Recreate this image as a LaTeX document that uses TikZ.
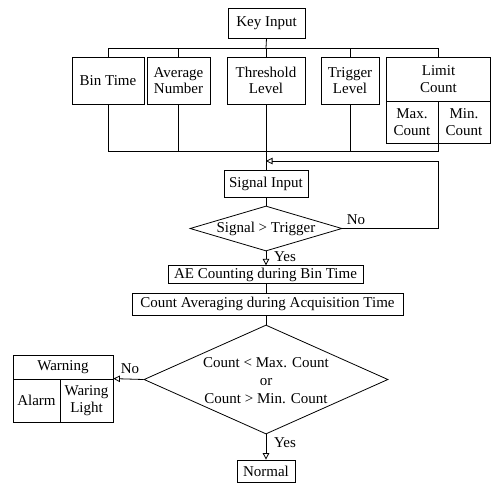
\documentclass[tikz,border=0pt]{standalone}
\usepackage{fontspec}
\setmainfont{Liberation Serif}
\usetikzlibrary{shapes.geometric,arrows.meta}
\begin{document}
\begin{tikzpicture}[x=1pt,y=-1pt,
  line width=0.8pt,
  every node/.style={font=\fontsize{15}{16.5}\selectfont, inner sep=0pt},
  box/.style={draw, rectangle, align=center},
  dia/.style={draw, diamond, inner sep=0pt},
  lbl/.style={inner sep=0pt},
  arr/.style={-{Triangle[open,length=6.5pt,width=6.5pt]}}]
\useasboundingbox (0,0) rectangle (492,483);
% top row
\node[box, minimum width=77pt, minimum height=30pt] (key) at (266.5,23) {Key Input};
\node[box, minimum width=72pt, minimum height=47pt] (bin) at (108,80.5) {Bin Time};
\node[box, minimum width=63pt, minimum height=47pt] (avg) at (178.5,80.5) {Average\\Number};
\node[box, minimum width=78pt, minimum height=47pt] (thr) at (266,80.5) {Threshold\\Level};
\node[box, minimum width=58pt, minimum height=47pt] (trg) at (350,80.5) {Trigger\\Level};
\node[box, minimum width=104pt, minimum height=44pt] (lim) at (438.5,79) {Limit\\Count};
\node[box, minimum width=52pt, minimum height=42pt] (max) at (412,122) {Max.\\Count};
\node[box, minimum width=52pt, minimum height=42pt] (min) at (464,122) {Min.\\Count};
\coordinate (tbar) at (266,48);
\coordinate (bbar) at (266,151);
\draw (key.south) -- (tbar);
\draw (bin.north) -- (bin.north |- tbar) -- (lim.north |- tbar) -- (lim.north);
\draw (avg.north) -- (avg.north |- tbar);
\draw (thr.north) -- (tbar);
\draw (trg.north) -- (trg.north |- tbar);
\draw (bin.south) -- (bin.south |- bbar) -- (max.south east |- bbar) -- (max.south east);
\draw (avg.south) -- (avg.south |- bbar);
\draw (trg.south) -- (trg.south |- bbar);
% signal part
\node[box, minimum width=84pt, minimum height=27pt] (sig) at (266,183.5) {Signal Input};
\draw (thr.south) -- (sig.north);
\node[dia, minimum width=152pt, minimum height=45pt] (d1) at (266,228.5) {};
\node[lbl] (d1t) at (266,229) {Signal > Trigger};
\draw (sig.south) -- (d1.north);
\coordinate (fbc) at (438,161);
\coordinate (fb) at (266,161);
\draw[arr] (d1.east) -| (fbc) -- (fb);
\node[lbl] (no1) at (356,220) {No};
\node[box, minimum width=195pt, minimum height=17.5pt] (ae) at (265.5,274.5) {AE Counting during Bin Time};
\draw[arr] (d1.south) -- (d1.south |- ae.north);
\node[lbl] (yes1) at (285,257) {Yes};
\node[box, minimum width=271pt, minimum height=22pt] (avc) at (267.5,304) {Count Averaging during Acquisition Time};
\draw (ae.south -| 266,0) -- (avc.north -| 266,0);
% second decision
\node[dia, minimum width=244pt, minimum height=109pt] (d2) at (266,379.5) {};
\node[lbl, align=center, font=\fontsize{15}{18}\selectfont] (d2t) at (266,381) {Count < Max. Count\\or\\Count > Min. Count};
\draw (avc.south -| d2.north) -- (d2.north);
\node[box, minimum width=100pt, minimum height=24pt] (warn) at (63,367) {Warning};
\node[box, minimum width=47pt, minimum height=43pt] (alarm) at (36.5,400.5) {Alarm};
\node[box, minimum width=53pt, minimum height=43pt] (light) at (86.5,400.5) {Waring\\Light};
\draw[arr] (d2.west) -- (light.north east);
\node[lbl] (no2) at (130,369) {No};
\node[box, minimum width=58pt, minimum height=22pt] (norm) at (266,471) {Normal};
\draw[arr] (d2.south) -- (norm.north);
\node[lbl] (yes2) at (285,443) {Yes};
\end{tikzpicture}
\end{document}
